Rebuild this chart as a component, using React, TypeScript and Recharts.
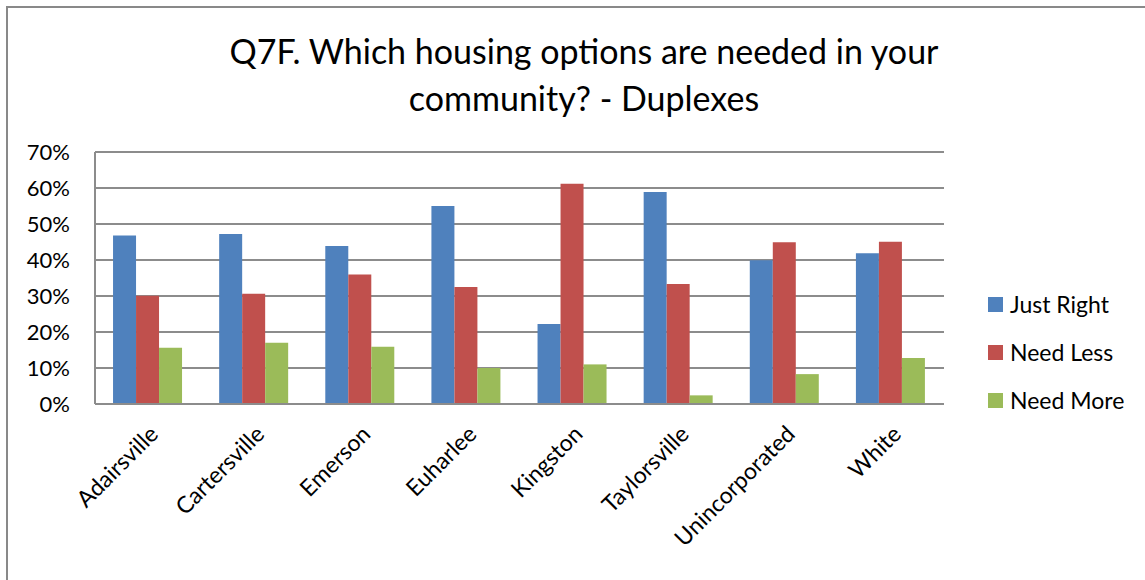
import { Bar, BarChart, CartesianGrid, Legend, XAxis, YAxis } from "recharts";

const categories = [
	"Adairsville",
	"Cartersville",
	"Emerson",
	"Euharlee",
	"Kingston",
	"Taylorsville",
	"Unincorporated",
	"White",
];

const justRight = [0.468, 0.472, 0.439, 0.55, 0.222, 0.589, 0.399, 0.419];
const needLess = [0.301, 0.306, 0.36, 0.325, 0.612, 0.333, 0.449, 0.451];
const needMore = [0.156, 0.17, 0.159, 0.1, 0.11, 0.024, 0.083, 0.128];

const yTicks = [0, 0.1, 0.2, 0.3, 0.4, 0.5, 0.6, 0.7];

const data = categories.map((name, i) => ({
	name,
	justRight: justRight[i],
	needLess: needLess[i],
	needMore: needMore[i],
}));

const series = [
	{ key: "justRight", label: "Just Right", color: "#4F81BD" },
	{ key: "needLess", label: "Need Less", color: "#C0504D" },
	{ key: "needMore", label: "Need More", color: "#9BBB59" },
];

const FONT = "Lato, 'Liberation Sans', sans-serif";

const LegendBox = () => (
	<div style={{ fontFamily: FONT, fontSize: 23, color: "#000" }}>
		{series.map((s) => (
			<div
				key={s.key}
				style={{ display: "flex", alignItems: "center", height: 48 }}
			>
				<span
					style={{
						display: "inline-block",
						width: 15,
						height: 15,
						background: s.color,
						marginRight: 7,
					}}
				/>
				{s.label}
			</div>
		))}
	</div>
);

const App = () => {
	return (
		<div
			style={{
				position: "absolute",
				left: 0,
				top: 0,
				width: 1145,
				height: 580,
				overflow: "hidden",
				background: "#fff",
			}}
		>
			<div
				style={{
					position: "absolute",
					left: 6,
					top: 6,
					width: 1300,
					height: 800,
					border: "2px solid #898989",
				}}
			/>
			<div
				style={{
					position: "absolute",
					left: 95,
					top: 27,
					width: 978,
					textAlign: "center",
					fontFamily: FONT,
					fontSize: 34,
					lineHeight: "47px",
					color: "#000",
				}}
			>
				Q7F. Which housing options are needed in your
				<br />
				community? - Duplexes
			</div>
			<BarChart
				width={1145}
				height={580}
				data={data}
				margin={{ top: 152, right: 41, bottom: 0, left: 0 }}
				barCategoryGap="17%"
				barGap={0}
				style={{ position: "absolute", left: 0, top: 0 }}
			>
				<CartesianGrid
					vertical={false}
					stroke="#8c8c8c"
					strokeWidth={2}
				/>
				<XAxis
					dataKey="name"
					height={176}
					interval={0}
					angle={-45}
					textAnchor="end"
					tickLine={false}
					axisLine={{ stroke: "#8c8c8c", strokeWidth: 2 }}
					tick={{ fill: "#000", fontSize: 23, fontFamily: FONT }}
					tickMargin={14}
				/>
				<YAxis
					width={95}
					domain={[0, 0.7]}
					ticks={yTicks}
					tickFormatter={(v: number) => `${Math.round(v * 100)}%`}
					tickLine={false}
					tickSize={0}
					tickMargin={25}
					axisLine={{ stroke: "#8c8c8c", strokeWidth: 2 }}
					tick={{ fill: "#000", fontSize: 22, fontFamily: FONT }}
				/>
				<Legend
					layout="vertical"
					align="right"
					verticalAlign="top"
					content={<LegendBox />}
					wrapperStyle={{ left: 988, top: 280, width: 160 }}
				/>
				{series.map((s) => (
					<Bar
						key={s.key}
						dataKey={s.key}
						name={s.label}
						fill={s.color}
						isAnimationActive={false}
					/>
				))}
			</BarChart>
		</div>
	);
};

export default App;
